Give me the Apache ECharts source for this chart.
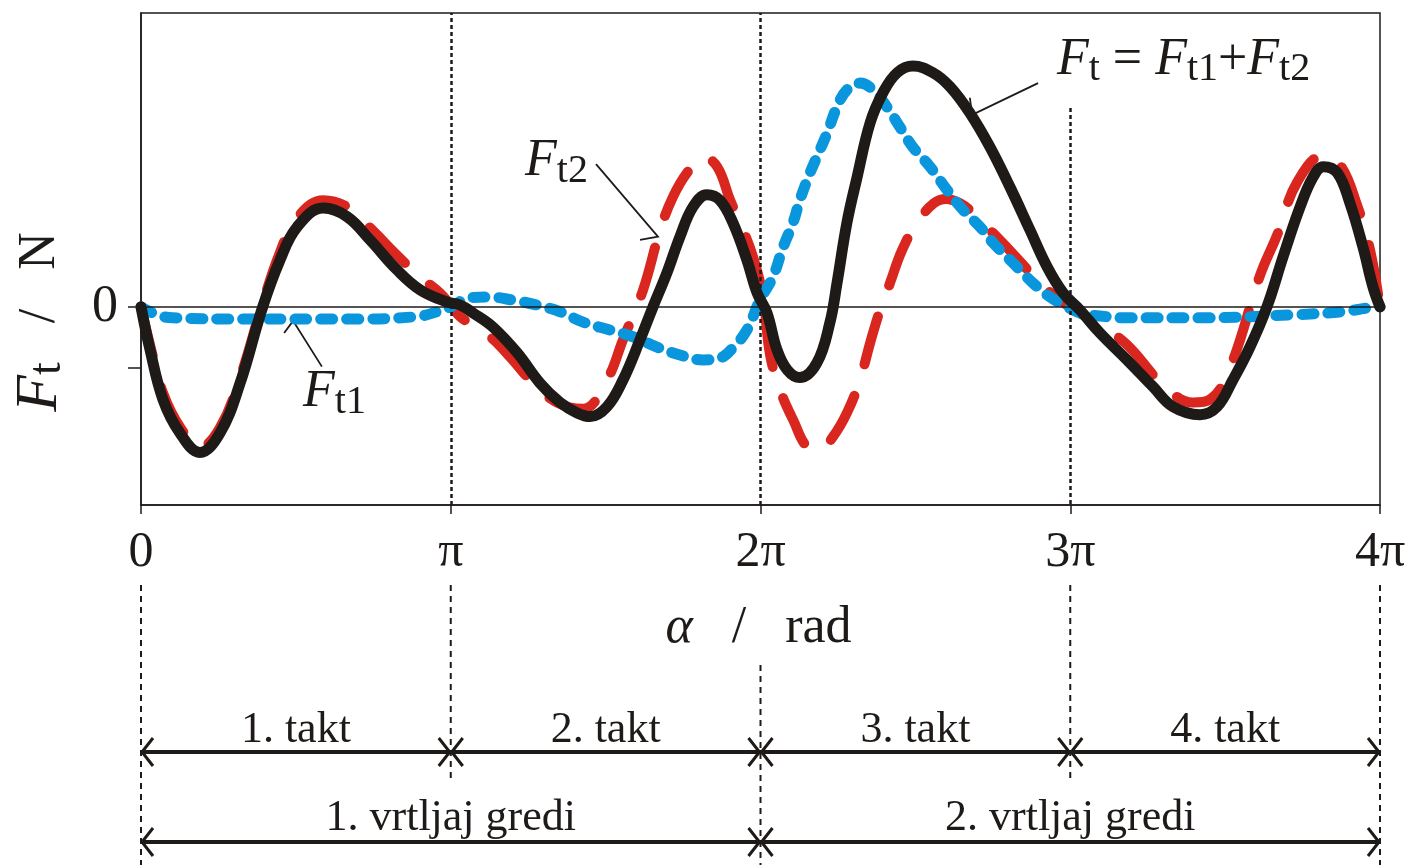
<!DOCTYPE html>
<html><head><meta charset="utf-8">
<script src="https://cdn.jsdelivr.net/npm/echarts@6/dist/echarts.min.js"></script>
<style>html,body{margin:0;padding:0;background:#fff}#c{width:1410px;height:865px}</style>
</head><body><div id="c"></div>
<script>
// x in units of pi (alpha / pi), y in N (arbitrary scale, tick at -1)
const tickLabels = ['0', 'π', '2π', '3π', '4π'];
const yTickValues = [0, -1];
const yLabelValues = [0];

const ftPoints = [[0,0],[0.029,-0.70],[0.071,-1.52],[0.126,-2.07],[0.190,-2.39],[0.255,-2.07],[0.320,-1.25],[0.391,-0.03],[0.449,0.77],[0.504,1.31],[0.588,1.62],[0.665,1.48],[0.739,1.10],[0.826,0.61],[0.901,0.28],[0.988,0.08],[1.030,0.03],[1.072,-0.10],[1.136,-0.33],[1.214,-0.75],[1.288,-1.25],[1.353,-1.57],[1.408,-1.74],[1.450,-1.80],[1.504,-1.64],[1.556,-1.20],[1.611,-0.54],[1.653,0],[1.698,0.56],[1.740,1.15],[1.782,1.64],[1.827,1.84],[1.869,1.75],[1.911,1.38],[1.956,0.77],[1.989,0.23],[2.021,-0.10],[2.053,-0.70],[2.086,-1.03],[2.127,-1.16],[2.182,-0.92],[2.224,-0.26],[2.247,0.39],[2.279,1.38],[2.312,2.13],[2.354,3.02],[2.395,3.51],[2.441,3.84],[2.492,3.95],[2.557,3.84],[2.612,3.61],[2.676,3.18],[2.741,2.62],[2.805,1.97],[2.870,1.26],[2.925,0.66],[2.977,0.23],[3.031,-0.05],[3.096,-0.43],[3.183,-0.87],[3.267,-1.31],[3.332,-1.64],[3.419,-1.77],[3.474,-1.64],[3.525,-1.20],[3.580,-0.66],[3.635,0],[3.687,0.82],[3.742,1.64],[3.784,2.13],[3.817,2.30],[3.862,2.20],[3.903,1.70],[3.945,0.98],[3.977,0.33],[4,0]];

const ft2Points = [[0,0],[0.029,-0.62],[0.071,-1.41],[0.126,-1.97],[0.190,-2.30],[0.255,-1.98],[0.320,-1.16],[0.391,0.03],[0.449,0.90],[0.504,1.46],[0.588,1.75],[0.665,1.64],[0.739,1.30],[0.826,0.85],[0.901,0.49],[0.965,0.23],[1.0,0.03],[1.030,-0.16],[1.127,-0.49],[1.191,-0.82],[1.266,-1.25],[1.343,-1.57],[1.427,-1.67],[1.504,-1.20],[1.556,-0.54],[1.621,0.28],[1.676,1.26],[1.717,1.80],[1.763,2.20],[1.814,2.46],[1.860,2.30],[1.902,1.75],[1.934,1.38],[1.976,0.82],[2.008,0.16],[2.031,-0.79],[2.063,-1.36],[2.105,-1.85],[2.153,-2.30],[2.192,-2.34],[2.234,-2.13],[2.279,-1.74],[2.321,-1.20],[2.354,-0.59],[2.386,-0.05],[2.418,0.39],[2.457,0.93],[2.505,1.38],[2.560,1.70],[2.600,1.77],[2.644,1.70],[2.686,1.54],[2.751,1.21],[2.828,0.80],[2.902,0.39],[2.967,0.11],[3.031,-0.10],[3.096,-0.30],[3.183,-0.62],[3.300,-1.28],[3.396,-1.57],[3.451,-1.52],[3.516,-1.00],[3.613,0.52],[3.668,1.18],[3.733,2.05],[3.817,2.48],[3.871,2.33],[3.926,1.67],[3.968,0.93],[4,0]];

const ft1Points = [[0,0],[0.052,-0.13],[0.103,-0.18],[0.352,-0.20],[0.675,-0.20],[0.891,-0.16],[0.956,-0.08],[1.0,0],[1.062,0.15],[1.127,0.16],[1.201,0.11],[1.278,0.03],[1.353,-0.08],[1.427,-0.25],[1.514,-0.38],[1.588,-0.49],[1.666,-0.66],[1.740,-0.79],[1.814,-0.87],[1.869,-0.84],[1.911,-0.67],[1.956,-0.38],[1.998,0.11],[2.040,0.49],[2.073,0.98],[2.105,1.38],[2.127,1.75],[2.160,2.20],[2.182,2.46],[2.215,2.85],[2.247,3.28],[2.279,3.56],[2.321,3.67],[2.363,3.56],[2.408,3.28],[2.450,2.95],[2.492,2.62],[2.547,2.30],[2.602,1.92],[2.654,1.59],[2.709,1.31],[2.751,1.05],[2.815,0.72],[2.880,0.39],[2.935,0.16],[2.990,0],[3.031,-0.10],[3.096,-0.15],[3.183,-0.18],[3.419,-0.18],[3.719,-0.13],[3.881,-0.08],[3.958,-0.02],[4,0]];

const taktLabels = ['1. takt', '2. takt', '3. takt', '4. takt'];
const vrtljajLabels = ['1. vrtljaj gredi', '2. vrtljaj gredi'];

const SERIF = '"Liberation Serif", "Times New Roman", serif';
const INK = '#1e1a18';
const RED = '#d9261e';
const BLUE = '#0a96dc';

const chart = echarts.init(document.getElementById('c'), null, {renderer: 'canvas'});

chart.setOption({
  animation: false,
  backgroundColor: '#fff',
  grid: {left: 141, right: 30, top: 13, bottom: 360, show: true, borderColor: INK, borderWidth: 1.5, backgroundColor: 'transparent'},
  xAxis: {
    type: 'value', min: 0, max: 4, interval: 1,
    axisLine: {show: true, onZero: false, lineStyle: {color: INK, width: 1.5}},
    axisTick: {show: true, length: 9, lineStyle: {color: INK, width: 1.5}},
    axisLabel: {formatter: v => tickLabels[Math.round(v)], fontFamily: SERIF, fontSize: 50, color: INK, margin: 23},
    splitLine: {show: false}
  },
  yAxis: {
    type: 'value', min: -3.25, max: 4.82,
    axisLine: {show: true, onZero: false, lineStyle: {color: INK, width: 1.5}},
    axisTick: {show: true, length: 13, customValues: yTickValues, lineStyle: {color: INK, width: 1.5}},
    axisLabel: {customValues: yLabelValues, fontFamily: SERIF, fontSize: 52, color: INK, margin: 23},
    splitLine: {show: false}
  },
  series: [
    {
      name: 'Ft2', type: 'line', data: ft2Points, showSymbol: false, symbol: 'none', smooth: 0.4,
      lineStyle: {color: RED, width: 10, type: [50, 33], cap: 'round', join: 'round'},
      markLine: {
        silent: true, symbol: 'none', label: {show: false}, animation: false,
        data: [
          {yAxis: 0, lineStyle: {color: INK, width: 1.5, type: 'solid'}},
          {xAxis: 1, lineStyle: {color: INK, width: 2.5, type: [4, 3]}},
          {xAxis: 2, lineStyle: {color: INK, width: 2.5, type: [4, 3]}},
          [{coord: [3, 3.26], lineStyle: {color: INK, width: 2.5, type: [4, 3]}}, {coord: [3, -3.25]}]
        ]
      }
    },
    {
      name: 'Ft1', type: 'line', data: ft1Points, showSymbol: false, symbol: 'none', smooth: 0.4,
      lineStyle: {color: BLUE, width: 11, type: [12, 14], cap: 'round', join: 'round'}
    },
    {
      name: 'Ft', type: 'line', data: ftPoints, showSymbol: false, symbol: 'none', smooth: 0.4,
      lineStyle: {color: INK, width: 11, cap: 'round', join: 'round'}
    }
  ]
});

function P(t, v) { return chart.convertToPixel({gridIndex: 0}, [t, v]); }
function X(t) { return P(t, 0)[0]; }

const g = [];
function line(pts, w, dash) {
  g.push({type: 'polyline', silent: true, shape: {points: pts},
    style: {stroke: INK, lineWidth: w, lineDash: dash || null, fill: null, lineCap: 'butt', lineJoin: 'miter'}});
}
function text(x, y, str, opts) {
  const o = opts || {};
  g.push({type: 'text', silent: true, x: x, y: y, rotation: o.rotation || 0,
    style: Object.assign({text: str, x: 0, y: 0, fill: INK,
      font: (o.size || 44) + 'px ' + SERIF,
      align: o.align || 'center', textAlign: o.align || 'center',
      verticalAlign: 'middle', textVerticalAlign: 'middle'}, o.style || {})});
}

// dotted guide lines below the plot
const belowGuides = [[0, 585, 865], [1, 585, 780], [2, 665, 865], [3, 585, 780], [4, 585, 865]];
belowGuides.forEach(([t, y0, y1]) => line([[X(t), y0], [X(t), y1]], 2, [6, 5]));

// arrow rows
function arrowRow(y, bounds) {
  line([[X(bounds[0]), y], [X(bounds[bounds.length - 1]), y]], 4);
  for (let i = 0; i < bounds.length - 1; i++) {
    const a = X(bounds[i]) + 1, b = X(bounds[i + 1]) - 1;
    line([[a + 11, y - 14], [a, y], [a + 11, y + 14]], 3);
    line([[b - 11, y - 14], [b, y], [b - 11, y + 14]], 3);
  }
}
arrowRow(752, [0, 1, 2, 3, 4]);
arrowRow(842, [0, 2, 4]);
taktLabels.forEach((s, i) => text(X(i + 0.5), 730, s, {size: 44}));
vrtljajLabels.forEach((s, i) => text(X(2 * i + 1), 818, s, {size: 44}));

// axis titles
text(X(2) - 2, 628, '{a|α}{n|   /   rad}', {style: {rich: {
  a: {fontFamily: SERIF, fontStyle: 'italic', fontSize: 52, fill: INK},
  n: {fontFamily: SERIF, fontSize: 52, fill: INK}}}});
text(40, 322, '{F|F}{s|t}{n|   /   N}', {rotation: Math.PI / 2, style: {rich: {
  F: {fontFamily: SERIF, fontStyle: 'italic', fontSize: 60, lineHeight: 62, fill: INK},
  s: {fontFamily: SERIF, fontSize: 46, lineHeight: 50, verticalAlign: 'bottom', fill: INK},
  n: {fontFamily: SERIF, fontSize: 52, lineHeight: 62, fill: INK}}}});

// annotations
const subRich = {
  F: {fontFamily: SERIF, fontStyle: 'italic', fontSize: 52, lineHeight: 60, fill: INK},
  s: {fontFamily: SERIF, fontSize: 40, lineHeight: 42, verticalAlign: 'bottom', fill: INK},
  o: {fontFamily: SERIF, fontSize: 52, lineHeight: 60, fill: INK}
};
function callout(pts) { line(pts.map(p => P(p[0], p[1])), 1.8); }
callout([[0.584, -0.98], [0.491, -0.23], [0.462, -0.43]]);
callout([[1.469, 2.34], [1.669, 1.15], [1.611, 1.10]]);
callout([[2.896, 3.67], [2.683, 3.15], [2.676, 3.43]]);
let p = P(0.523, -1.41); text(p[0], p[1], '{F|F}{s|t1}', {align: 'left', style: {rich: subRich}});
p = P(1.240, 2.38); text(p[0], p[1], '{F|F}{s|t2}', {align: 'left', style: {rich: subRich}});
p = P(2.957, 4.05); text(p[0], p[1], '{F|F}{s|t}{o| = }{F|F}{s|t1}{o|+}{F|F}{s|t2}', {align: 'left', style: {rich: subRich}});

chart.setOption({graphic: g});
</script>
</body></html>
